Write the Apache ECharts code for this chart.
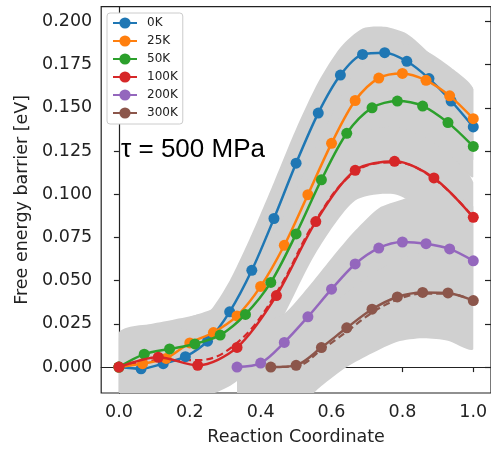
<!DOCTYPE html>
<html><head><meta charset="utf-8">
<script src="https://cdn.jsdelivr.net/npm/echarts@6/dist/echarts.min.js"></script>
<style>html,body{margin:0;padding:0;background:#fff}#c{width:491px;height:451px}</style>
</head><body><div id="c"></div>
<script>
const names = ['0K','25K','50K','100K','200K','300K'];
const colors = ['#1f77b4','#ff7f0e','#2ca02c','#d62728','#9467bd','#8c564b'];
const bandColor = '#d0d0d0';
const xTicks = [0,0.2,0.4,0.6,0.8,1.0];
const yTicks = [0,0.025,0.05,0.075,0.1,0.125,0.15,0.175,0.2];

const x0K = [0,0.0625,0.125,0.1875,0.25,0.3125,0.375,0.4375,0.5,0.5625,0.625,0.6875,0.75,0.8125,0.875,0.9375,1];
const y0K = [0,-0.001,0.002,0.006,0.015,0.032,0.056,0.086,0.118,0.147,0.169,0.181,0.182,0.177,0.167,0.154,0.139];
const up0K = [0.017,0.019,0.022,0.026,0.031,0.05,0.077,0.107,0.138,0.165,0.185,0.196,0.197,0.193,0.182,0.171,0.161];
const lo0K = [-0.02,-0.021,-0.018,-0.013,-0.005,0.012,0.036,0.066,0.098,0.127,0.15,0.162,0.164,0.159,0.15,0.137,0.12];

const x25K = [0,0.0667,0.1333,0.2,0.2667,0.3333,0.4,0.4667,0.5333,0.6,0.6667,0.7333,0.8,0.8667,0.9333,1];
const y25K = [0,0.002,0.005,0.014,0.02,0.0296,0.0467,0.0705,0.0998,0.1295,0.1543,0.1673,0.17,0.166,0.157,0.1438];
const up25K = [0.017,0.02,0.023,0.029,0.034,0.046,0.064,0.088,0.117,0.146,0.171,0.184,0.187,0.183,0.174,0.161];
const lo25K = [-0.018,-0.016,-0.013,-0.004,0.002,0.012,0.029,0.053,0.082,0.112,0.136,0.149,0.152,0.148,0.139,0.126];

const x50K = [0,0.0714,0.1429,0.2143,0.2857,0.3571,0.4286,0.5,0.5714,0.6429,0.7143,0.7857,0.8571,0.9286,1];
const y50K = [0,0.0075,0.0105,0.0134,0.0185,0.0305,0.049,0.0771,0.1084,0.1353,0.1501,0.154,0.1511,0.1415,0.1277];
const up50K = [0.017,0.024,0.027,0.03,0.034,0.047,0.066,0.094,0.125,0.152,0.167,0.171,0.168,0.158,0.145];
const lo50K = [-0.018,-0.011,-0.008,-0.005,0.001,0.013,0.031,0.059,0.09,0.117,0.132,0.136,0.133,0.123,0.11];

const x100K = [0,0.1111,0.2222,0.3333,0.4444,0.5556,0.6667,0.7778,0.8889,1];
const y100K = [0,0.0057,0.001,0.0114,0.0414,0.0842,0.1139,0.1191,0.1095,0.0867];
const fit100K = [0,0.004,0.004,0.014,0.043,0.085,0.113,0.1185,0.109,0.0867];
const up100K = [0.02,0.025,0.021,0.031,0.061,0.104,0.134,0.139,0.13,0.107];
const lo100K = [-0.02,-0.015,-0.018,-0.008,0.022,0.066,0.0964,0.1,0.087,0.062];

const x200K = [0.3333,0.4,0.4667,0.5333,0.6,0.6667,0.7333,0.8,0.8667,0.9333,1];
const y200K = [0,0.0023,0.0143,0.0291,0.0451,0.0597,0.0689,0.0724,0.0714,0.0684,0.0615];
const up200K = [0.024,0.026,0.031,0.046,0.063,0.079,0.092,0.097,0.101,0.099,0.093];
const lo200K = [-0.03,-0.022,-0.011,0.004,0.02,0.035,0.044,0.047,0.046,0.043,0.036];

const x300K = [0.4286,0.5,0.5714,0.6429,0.7143,0.7857,0.8571,0.9286,1];
const y300K = [0,0.001,0.0113,0.0227,0.0335,0.0406,0.0432,0.0429,0.0385];
const fit300K = [0,0.0005,0.010,0.0205,0.0315,0.039,0.0425,0.0425,0.0385];
const up300K = [0.02,0.021,0.031,0.043,0.054,0.062,0.066,0.067,0.063];
const lo300K = [-0.03,-0.024,-0.011,0.0,0.008,0.0147,0.0167,0.0153,0.0105];

const xs = [x0K,x25K,x50K,x100K,x200K,x300K];
const ys = [y0K,y25K,y50K,y100K,y200K,y300K];
const ups = [up0K,up25K,up50K,up100K,up200K,up300K];
const los = [lo0K,lo25K,lo50K,lo100K,lo200K,lo300K];
const fits = [null,null,null,fit100K,null,fit300K];

const zip = (a,b) => a.map((v,i)=>[v,b[i]]);
const series = [];
// bands as filled polygons through the axes' scales
xs.forEach((x,k)=>{
  const up = ups[k], lo = los[k];
  series.push({type:'custom', name:'band-'+k, silent:true, z:1, clip:true,
    data: x.map((v,i)=>[v, up[i], lo[i]]),
    encode:{x:0, y:[1,2]},
    renderItem:(params, api)=>{
      if (params.dataIndex !== 0) return null;
      const pts = [];
      for (let i=0;i<x.length;i++) pts.push(api.coord([x[i], up[i]]));
      for (let i=x.length-1;i>=0;i--) pts.push(api.coord([x[i], lo[i]]));
      const cs = params.coordSys;
      const xl = api.coord([x[0],0])[0], xr = api.coord([x[x.length-1],0])[0];
      return {type:'polygon',
        shape:{points:pts, smooth:0.25, smoothConstraint:[[xl,-1e4],[xr,1e4]]},
        style:{fill:bandColor, stroke:null},
        clipPath:{type:'rect', shape:{x:cs.x, y:cs.y, width:cs.width, height:cs.height}}};
    }});
});
// dashed fits
xs.forEach((x,k)=>{
  if (!fits[k]) return;
  series.push({type:'line', name:'fit-'+k, data: zip(x, fits[k]), smooth:0.4, symbol:'none',
    lineStyle:{color:colors[k], width:2.2, type:[7,4]}, silent:true, z:3});
});
// main series
xs.forEach((x,k)=>{
  series.push({type:'line', name:names[k], data: zip(x, ys[k]), smooth:0.3,
    symbol:'circle', symbolSize:11, showSymbol:true, showAllSymbol:true,
    itemStyle:{color:colors[k]}, lineStyle:{color:colors[k], width:2.5}, z:4+k});
});

const font = 'DejaVu Sans';
const chart = echarts.init(document.getElementById('c'), null, {renderer:'canvas'});
chart.setOption({
  animation:false,
  backgroundColor:'#fff',
  grid:{left:101.2, right:-2.5, top:6.7, bottom:53, show:true, borderColor:'#222', borderWidth:1.2, backgroundColor:'transparent'},
  xAxis:{type:'value', min:-0.05, max:1.05,
    name:'Reaction Coordinate', nameLocation:'middle', nameGap:35,
    nameTextStyle:{fontFamily:font, fontSize:17.5, color:'#222'},
    axisLine:{show:true, lineStyle:{color:'#222', width:1.2}},
    axisTick:{show:true, length:5, lineStyle:{color:'#222', width:1.2}, customValues:xTicks},
    axisLabel:{fontFamily:font, fontSize:17.5, color:'#222', margin:10, customValues:xTicks, formatter:v=>v.toFixed(1)},
    splitLine:{show:false}},
  yAxis:[{type:'value', min:-0.015, max:0.2086,
    name:'Free energy barrier [eV]', nameLocation:'middle', nameGap:64, nameRotate:90,
    nameTextStyle:{fontFamily:font, fontSize:17.5, color:'#222'},
    axisLine:{show:true, lineStyle:{color:'#222', width:1.2}},
    axisTick:{show:true, length:5, lineStyle:{color:'#222', width:1.2}, customValues:yTicks},
    axisLabel:{fontFamily:font, fontSize:17.5, color:'#222', margin:9, customValues:yTicks, formatter:v=>v.toFixed(3)},
    splitLine:{show:false}},
   {type:'value', position:'right', min:-0.015, max:0.2086,
    axisLine:{show:false},
    axisTick:{show:true, inside:true, length:6, lineStyle:{color:'#222', width:1.2}, customValues:yTicks},
    axisLabel:{show:false}, splitLine:{show:false}}],
  legend:{data:names, orient:'vertical', left:107, top:13, padding:[4,5,5,5],
    itemWidth:24, itemHeight:14, itemGap:6,
    backgroundColor:'#fff', borderColor:'#cccccc', borderWidth:1, borderRadius:3,
    textStyle:{fontFamily:font, fontSize:12, color:'#222', padding:[0,0,0,5]}},
  graphic:[{type:'text', left:121, top:137, z:100, style:{text:'τ = 500 MPa', font:'26px "Liberation Sans"', fill:'#000'}}],
  series: series
});
</script></body></html>
